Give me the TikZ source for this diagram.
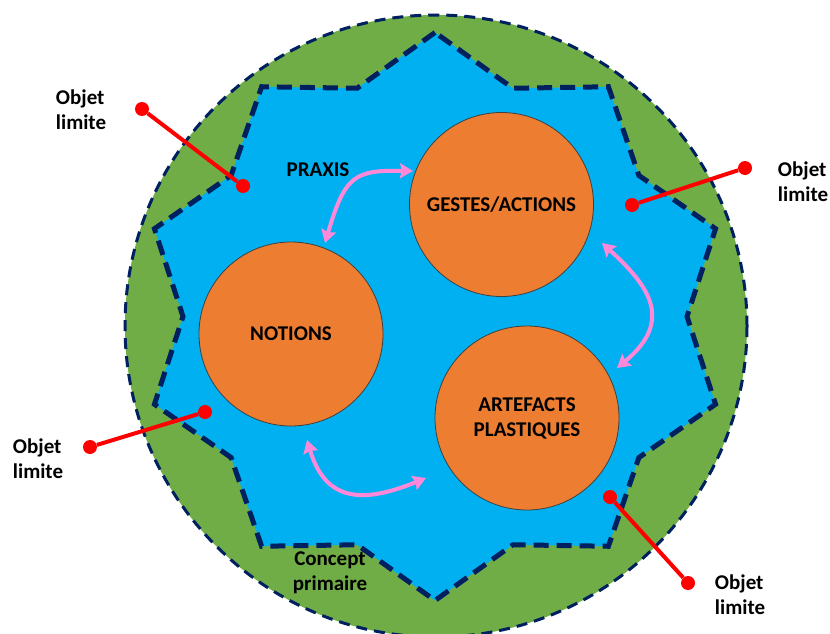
\documentclass[tikz,border=0pt]{standalone}
\usepackage{fontspec}
\setmainfont{Carlito}
\usetikzlibrary{arrows.meta}
\definecolor{vert}{RGB}{112,173,71}
\definecolor{bleu}{RGB}{0,176,240}
\definecolor{orangepp}{RGB}{237,125,49}
\definecolor{marine}{RGB}{0,32,96}
\definecolor{rose}{RGB}{255,137,216}
\begin{document}
\begin{tikzpicture}[x=1pt, y=-1pt,
  every node/.style={font=\bfseries\fontsize{21}{25}\selectfont},
  bulle/.style={draw=black!75, line width=0.8pt, fill=orangepp, circle, minimum size=184pt, inner sep=0pt, align=center},
  pastille/.style={circle, fill=red, minimum size=14pt, inner sep=0pt},
  lien/.style={red, line width=4pt},
  fleche/.style={rose, line width=4pt, {Stealth[length=13pt,width=15pt,inset=2pt]}-{Stealth[length=13pt,width=15pt,inset=2pt]}},
  etiquette/.style={inner sep=0pt, align=left}]
\useasboundingbox (0,0) rectangle (830,634);
\clip (0,0) rectangle (830,634);

% concept primaire
\draw[marine, line width=3pt, dash pattern=on 11pt off 7pt, fill=vert] (436,326) circle[radius=311];
% praxis
\draw[marine, line width=5pt, dash pattern=on 15pt off 8pt, fill=bleu] (435,32.5)
  \foreach \i in {1,...,9}{ -- ({435+252*cos(108+36*\i-36)},{316.5-240*sin(108+36*\i-36)}) -- ({435+295*cos(90+36*\i)},{316.5-284*sin(90+36*\i)}) }
  -- ({435+252*cos(72)},{316.5-240*sin(72)}) -- cycle;

\node[bulle] (gestes) at (501.5,204.5) {GESTES/ACTIONS};
\node[bulle] (notions) at (291,334) {NOTIONS};
\node[bulle] (artefacts) at (527,418) {ARTEFACTS\\PLASTIQUES};

\node (praxis) at (318,170) {PRAXIS};
\node[align=center, inner sep=0pt] (concept) at (330,573) {Concept\\primaire};

% fleches
\coordinate (f1a) at (325,243);
\coordinate (f1b) at (413,171);
\coordinate (f2a) at (602,243);
\coordinate (f2b) at (617,368);
\coordinate (f3a) at (307,440);
\coordinate (f3b) at (426,478);
\draw[fleche] (f1a) .. controls (345,175) and (355,170) .. (f1b);
\draw[fleche] (f2a) .. controls (648,285) and (675,320) .. (f2b);
\draw[fleche] (f3a) .. controls (325,500) and (360,505) .. (f3b);

% objets limites
\node[pastille] (a1) at (142,109) {};
\node[pastille] (a2) at (243,186) {};
\node[pastille] (b1) at (745,168) {};
\node[pastille] (b2) at (632,205) {};
\node[pastille] (c1) at (90,447) {};
\node[pastille] (c2) at (205,412) {};
\node[pastille] (d1) at (688,583) {};
\node[pastille] (d2) at (610,497) {};
\draw[lien] (a1) -- (a2);
\draw[lien] (b1) -- (b2);
\draw[lien] (c1) -- (c2);
\draw[lien] (d1) -- (d2);

\node[etiquette] (oa) at (81,110) {Objet\\limite};
\node[etiquette] (ob) at (803,182) {Objet\\limite};
\node[etiquette] (oc) at (38,459) {Objet\\limite};
\node[etiquette] (od) at (740,595) {Objet\\limite};
\end{tikzpicture}
\end{document}
